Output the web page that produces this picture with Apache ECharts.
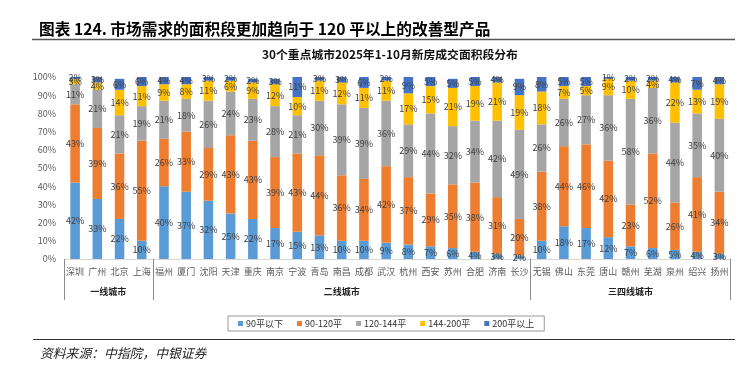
<!DOCTYPE html>
<html>
<head>
<meta charset="utf-8">
<script src="https://cdn.jsdelivr.net/npm/echarts@6/dist/echarts.min.js"></script>
<style>
html,body{margin:0;padding:0;background:#fff;}
#chart{width:756px;height:365px;}
</style>
</head>
<body>
<div id="chart"></div>
<script>
const cities = ['深圳','广州','北京','上海','福州','厦门','沈阳','天津','重庆','南京','宁波','青岛','南昌','成都','武汉','杭州','西安','苏州','合肥','济南','长沙','无锡','佛山','东莞','唐山','赣州','芜湖','泉州','绍兴','扬州'];
const groupNames = ['一线城市','二线城市','三四线城市'];
const groupSizes = [4, 17, 9];
const seriesNames = ['90平以下','90-120平','120-144平','144-200平','200平以上'];
const s90 =      [42,33,22,10,40,37,32,25,22,17,15,13,10,10, 9, 8, 7, 6, 4, 3, 2,10,18,17,12, 7, 6, 5, 4, 3];
const s90_120 =  [43,39,36,55,26,33,29,43,43,39,43,44,36,34,42,37,29,35,38,31,20,38,44,46,42,23,52,26,41,34];
const s120_144 = [11,21,21,19,21,18,26,24,23,28,21,30,39,39,36,29,44,32,34,42,49,26,26,27,36,58,36,44,35,40];
const s144_200 = [ 3, 4,14,11, 9, 8,11, 6, 9,12,10,11,12,11,11,17,15,21,19,21,19,18, 7, 5, 9,10, 4,22,13,19];
const s200 =     [ 2, 3, 6, 6, 4, 4, 3, 2, 2, 3,11, 3, 3, 6, 2, 9, 5, 5, 5, 4, 9, 8, 5, 5, 1, 2, 2, 4, 7, 4];
const yTicks = [0,10,20,30,40,50,60,70,80,90,100];

const colors = ['#5B9BD5','#ED7D31','#A5A5A5','#FFC000','#4472C4'];
const allSeries = [s90, s90_120, s120_144, s144_200, s200];

// group boundaries and centers
const boundaries = [];
const groupLabelAt = {};
let start = 0;
groupSizes.forEach((n, gi) => {
  boundaries.push(start);
  groupLabelAt[start + Math.floor(n / 2) - (n % 2 === 0 ? 1 : 0)] = {name: groupNames[gi], even: n % 2 === 0};
  start += n;
});

const chart = echarts.init(document.getElementById('chart'), null, {renderer: 'canvas'});
const font = '"Noto Sans CJK SC", "Noto Sans", sans-serif';
chart.setOption({
  animation: false,
  textStyle: {fontFamily: font},
  title: [
    {text: '图表 124. 市场需求的面积段更加趋向于 120 平以上的改善型产品', left: 34, top: 16,
     textStyle: {fontSize: 15.7, fontWeight: 'bold', color: '#000', fontFamily: font}},
    {text: '30个重点城市2025年1-10月新房成交面积段分布', left: 385, textAlign: 'center', top: 44,
     textStyle: {fontSize: 11.8, fontWeight: 'bold', color: '#111', fontFamily: font}},
    {text: '资料来源：中指院，中银证券', left: 35, top: 342,
     textStyle: {fontSize: 12.8, fontStyle: 'italic', fontWeight: 'normal', color: '#222', fontFamily: font}}
  ],
  graphic: [
    {type: 'line', shape: {x1: 32, y1: 39.5, x2: 735, y2: 39.5}, style: {stroke: '#555', lineWidth: 1.5}},
    {type: 'line', shape: {x1: 33, y1: 339.5, x2: 735, y2: 339.5}, style: {stroke: '#333', lineWidth: 1.2}}
  ],
  legend: {
    data: seriesNames,
    left: 228, top: 316,
    icon: 'rect', itemWidth: 5, itemHeight: 5, itemGap: 14,
    borderColor: '#999', borderWidth: 1, padding: [3, 10, 3, 10],
    textStyle: {fontSize: 9, color: '#333', padding: [0,0,0,-2]}
  },
  grid: {left: 64, right: 25.5, top: 77, bottom: 106, containLabel: false},
  xAxis: [
    {
      type: 'category', data: cities, boundaryGap: true,
      axisLine: {show: true, lineStyle: {color: '#D9D9D9'}},
      axisTick: {show: true, interval: (i) => boundaries.indexOf(i) >= 0, length: 41, lineStyle: {color: '#8C8C8C'}},
      axisLabel: {interval: 0, fontSize: 9, color: '#595959', margin: 8}
    },
    {
      type: 'category', data: cities, position: 'bottom', gridIndex: 0, boundaryGap: true,
      axisLine: {show: false}, axisTick: {show: false},
      axisLabel: {
        interval: (i) => groupLabelAt[i] !== undefined,
        margin: 28, fontSize: 9, fontWeight: 'bold', color: '#222',
        formatter: (v, i) => {
          const g = groupLabelAt[i];
          if (!g) return '';
          return g.even ? '{e|' + g.name + '}' : '{o|' + g.name + '}';
        },
        rich: {
          e: {fontSize: 9, fontWeight: 'bold', color: '#222', padding: [0, 0, 0, 22]},
          o: {fontSize: 9, fontWeight: 'bold', color: '#222'}
        }
      }
    }
  ],
  yAxis: {
    type: 'value', min: 0, max: 100, interval: 10,
    axisLine: {show: false}, axisTick: {show: false}, splitLine: {show: false},
    axisLabel: {formatter: (v) => v + '%', fontSize: 9, color: '#595959', margin: 8}
  },
  series: allSeries.map((d, i) => ({
    name: seriesNames[i], type: 'bar', stack: 'total', data: d,
    barWidth: '43%', itemStyle: {color: colors[i]},
    label: {show: true, position: 'inside', formatter: '{c}%', fontSize: 9, color: '#404040'}
  }))
});
</script>
</body>
</html>
